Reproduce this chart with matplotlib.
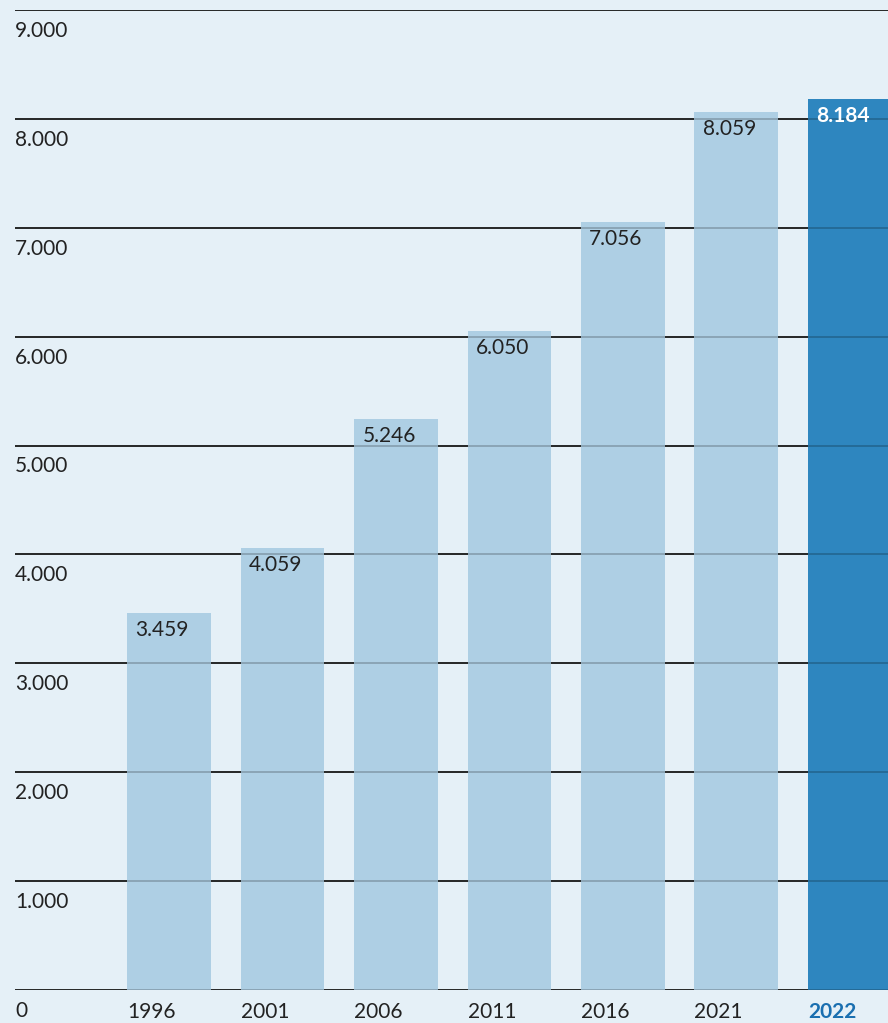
import matplotlib.pyplot as plt
from matplotlib.transforms import blended_transform_factory

years = ["1996", "2001", "2006", "2011", "2016", "2021", "2022"]
values = [3459, 4059, 5246, 6050, 7056, 8059, 8184]
labels = ["3.459", "4.059", "5.246", "6.050", "7.056", "8.059", "8.184"]
yticks = [0, 1000, 2000, 3000, 4000, 5000, 6000, 7000, 8000, 9000]
ytick_labels = ["0", "1.000", "2.000", "3.000", "4.000", "5.000", "6.000", "7.000", "8.000", "9.000"]

bg = "#e5f0f7"
light = "#aecfe4"
dark = "#2e86bf"
ink = "#222222"

plt.rcParams["font.family"] = ["Lato", "DejaVu Sans"]

fig = plt.figure(figsize=(8.88, 10.23), dpi=100, facecolor=bg)
ax = fig.add_axes([15 / 888, 33 / 1023, 873 / 888, 980 / 1023])
ax.set_facecolor(bg)

width = 0.74
x = list(range(len(years)))
colors = [light] * (len(years) - 1) + [dark]

for v in yticks:
    ax.axhline(v, color=ink, lw=1.3, zorder=1)
ax.bar(x, values, width=width, color=colors, zorder=2)
# gridlines show faintly through the bars
for v in yticks:
    ax.axhline(v, color="black", lw=1.3, alpha=0.22, zorder=3)

ax.set_xlim(-1.357, 6.335)
ax.set_ylim(0, 9000)
for s in ax.spines.values():
    s.set_visible(False)
ax.set_xticks([])
ax.set_yticks([])

trans = blended_transform_factory(ax.transAxes, ax.transData)
for v, lab in zip(yticks, ytick_labels):
    ax.annotate(lab, (0, v), xycoords=trans, xytext=(0, -15), textcoords="offset points",
                ha="left", va="center", fontsize=15, color=ink, annotation_clip=False)

for i, (yr, v, lab) in enumerate(zip(years, values, labels)):
    last = i == len(years) - 1
    ax.annotate(yr, (i - width / 2, 0), xytext=(0, -16), textcoords="offset points",
                ha="left", va="center", fontsize=15,
                color="#1a6fb0" if last else ink,
                fontweight="bold" if last else "normal", annotation_clip=False)
    ax.annotate(lab, (i - width / 2, v), xytext=(6, -5), textcoords="offset points",
                ha="left", va="top", fontsize=15,
                color="white" if last else ink,
                fontweight="bold" if last else "normal", zorder=4)

fig.savefig("out.png", dpi=100, facecolor=bg)
